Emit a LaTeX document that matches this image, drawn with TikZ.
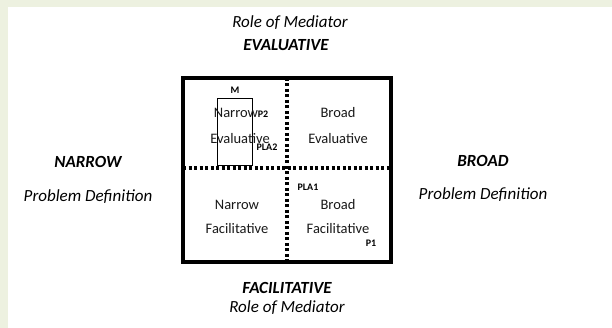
\documentclass[tikz,border=0pt]{standalone}
\usepackage{fontspec}
\setmainfont{Carlito}
\definecolor{strip}{RGB}{237,241,224}
\begin{document}
\begin{tikzpicture}[x=1pt,y=-1pt,
  outer/.style={font=\fontsize{17}{19}\selectfont\itshape, inner sep=0pt},
  outerb/.style={font=\fontsize{17}{19}\selectfont\bfseries\itshape, inner sep=0pt},
  cell/.style={font=\fontsize{14.5}{16}\selectfont, text=black!90, inner sep=0pt},
  tag/.style={font=\fontsize{10}{11}\selectfont\bfseries, inner sep=0pt},
  dotline/.style={line width=3.2pt, dash pattern=on 3pt off 2.5pt}]
\useasboundingbox (0,0) rectangle (612,328);
\fill[white] (0,0) rectangle (612,328);
\fill[strip] (0,0) rectangle (8,328);
\fill[strip] (0,0) rectangle (612,7);
% dividers
\coordinate (vt) at (287,78); \coordinate (vb) at (287,262);
\coordinate (hl) at (183,168); \coordinate (hr) at (391,168);
\draw[dotline] (hl) -- (hr);
\draw[dotline] (vt) -- (vb);
% main box
\draw[line width=3.2pt] (183,78) rectangle (391,262);
% small rectangle
\draw[line width=0.8pt] (217,98) rectangle (252,165);
% cell texts
\node[cell] (ne1) at (236,113) {Narrow};
\node[cell] (ne2) at (240,139) {Evaluative};
\node[cell] (be1) at (338,113) {Broad};
\node[cell] (be2) at (338,139) {Evaluative};
\node[cell] (nf1) at (237,205) {Narrow};
\node[cell] (nf2) at (237,229) {Facilitative};
\node[cell] (bf1) at (338,205) {Broad};
\node[cell] (bf2) at (338,229) {Facilitative};
% tags
\node[tag] (m) at (235,90) {M};
\node[tag] (p2) at (263,114) {P2};
\node[tag] (pla2) at (267,147) {PLA2};
\node[tag] (pla1) at (308,187) {PLA1};
\node[tag] (p1) at (371,243) {P1};
% outer labels
\node[outer] (rt) at (290,23) {Role of Mediator};
\node[outerb] (ev) at (286,45) {EVALUATIVE};
\node[outerb] (fa) at (287,288) {FACILITATIVE};
\node[outer] (rb) at (287,308) {Role of Mediator};
\node[outerb] (na) at (88,162) {NARROW};
\node[outer] (pl) at (88,197) {Problem Definition};
\node[outerb] (br) at (483,161) {BROAD};
\node[outer] (pr) at (483,195) {Problem Definition};
\end{tikzpicture}
\end{document}
